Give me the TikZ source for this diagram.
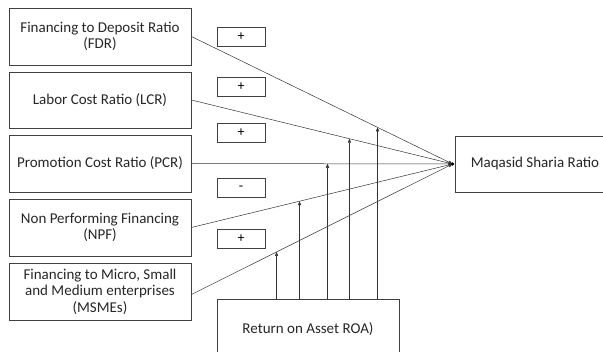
\documentclass[tikz,border=0pt]{standalone}
\usepackage{fontspec}
\setmainfont{Carlito}
\usetikzlibrary{arrows.meta,calc}
\begin{document}
\begin{tikzpicture}[x=1pt,y=-1pt,
  box/.style={draw=black!75,line width=0.8pt,align=center,font=\fontsize{15}{16.5}\selectfont,text=black!85,inner sep=0pt},
  sign/.style={draw=black!75,line width=0.8pt,minimum width=48pt,minimum height=19pt,inner sep=0pt,font=\fontsize{14}{16}\selectfont},
  link/.style={draw=black!80,line width=0.5pt,-{Triangle[length=4pt,width=3.2pt]}}]
\useasboundingbox (0,0) rectangle (603,352);
\clip (0,0) rectangle (603,352);
\node[box,minimum width=182pt,minimum height=57pt] (fdr) at (100,36.5) {Financing to Deposit Ratio\\(FDR)};
\node[box,minimum width=182pt,minimum height=56pt] (lcr) at (100,100) {Labor Cost Ratio (LCR)};
\node[box,minimum width=182pt,minimum height=57pt] (pcr) at (100,163.5) {Promotion Cost Ratio (PCR)};
\node[box,minimum width=182pt,minimum height=57pt] (npf) at (100,227.5) {Non Performing Financing\\(NPF)};
\node[box,minimum width=182pt,minimum height=57pt] (msme) at (100,291.5) {Financing to Micro, Small\\and Medium enterprises\\(MSMEs)};
\node[box,minimum width=160pt,minimum height=56pt] (maq) at (535,164) {Maqasid Sharia Ratio};
\node[box,minimum width=182pt,minimum height=62pt] (roa) at (308,330) {};
\node[font=\fontsize{15}{16.5}\selectfont,text=black!85] (roat) at (308,329) {Return on Asset ROA)};
\node[sign] (s1) at (241,36.5) {+};
\node[sign] (s2) at (241,86.5) {+};
\node[sign] (s3) at (241,133) {+};
\node[sign] (s4) at (241,188) {-};
\node[sign] (s5) at (241,239) {+};
\coordinate (t) at ($(maq.west)+(-2,0)$);
\draw[link] (fdr.east) -- (t) coordinate[pos=0.7126] (p1);
\draw[link] (lcr.east) -- (t) coordinate[pos=0.605] (p2);
\draw[link] (pcr.east) -- (t) coordinate[pos=0.521] (p3);
\draw[link] (npf.east) -- (t) coordinate[pos=0.414] (p4);
\draw[link] ($(msme.east)+(0,3)$) -- (t) coordinate[pos=0.326] (p5);
\fill[black] (t) circle (1.8pt);
\foreach \p in {p1,p2,p3,p4,p5}
  \draw[link] (roa.north -| \p) -- (\p);
\end{tikzpicture}
\end{document}
